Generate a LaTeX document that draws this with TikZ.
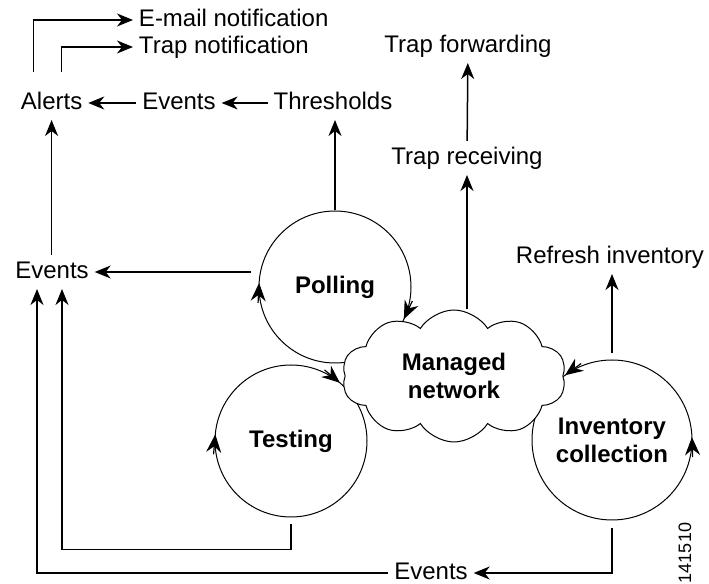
\documentclass[tikz,border=0pt]{standalone}
\usepackage{fontspec}
\setmainfont{Liberation Sans}
\usetikzlibrary{arrows.meta,shapes.symbols}
\usetikzlibrary{positioning}
\tikzset{
    process/.style={
      circle,
           draw=black, line width=0.5pt,
           inner sep=2pt,
           text centered,
           font=\fontsize{12}{14}\selectfont\bfseries,
           minimum size=76pt,
           },
}
\tikzset{
    cloudnet/.style={
      cloud, cloud puffs=10, cloud puff arc=115, aspect=1.8,
           draw=black, fill=white, line width=0.5pt,
           align=center,
           font=\fontsize{12}{14}\selectfont\bfseries,
           minimum width=112pt, minimum height=66pt,
           },
}
\tikzset{
    lbl/.style={
           inner sep=2pt, outer sep=1pt,
           text height=9pt, text depth=2pt,
           font=\fontsize{12}{14}\selectfont,
           },
}
\tikzset{
    arr/.style={
           -{Stealth[length=8pt,width=6.5pt,inset=2.5pt]},
           line width=0.75pt,
           },
}
\tikzset{
    ringarr/.style={
           -{Stealth[length=9pt,width=7.5pt,inset=3pt]},
           line width=0.6pt,
           },
}

\begin{document}
\begin{tikzpicture}[x=0.5pt,y=0.5pt]
\useasboundingbox (0,0) rectangle (709,584);

% the three activities
\node[process](poll) at (335,297){Polling};
\node[process](test) at (291,143){Testing};
\node[process,minimum size=80pt,align=center](inv) at (612,144){Inventory\\collection};

\node[cloudnet](net) at (454,208){Managed\\network};

% arrow heads on the circles (tip on the ring, short tangent tail)
\draw[ringarr] (poll.center) ++(177:38pt) ++(267:10pt) -- ++(87:10pt);
\draw[ringarr] (poll.center) ++(-25:38pt) ++(65:10pt) -- ++(-115:10pt);
\draw[ringarr] (test.center) ++(175:38pt) ++(265:10pt) -- ++(85:10pt);
\draw[ringarr] (test.center) ++(50:38pt) ++(140:10pt) -- ++(-40:10pt);
\draw[ringarr] (inv.center) ++(2:40pt) ++(-88:10pt) -- ++(92:10pt);
\draw[ringarr] (inv.center) ++(126:40pt) ++(36:10pt) -- ++(216:10pt);

% labels
\node[lbl,anchor=west](email) at (133,564){E-mail notification};
\node[lbl,anchor=west](trapnot) at (133,537){Trap notification};
\node[lbl](thr) at (333,481){Thresholds};
\node[lbl,left = 23pt of thr](evtop){Events};
\node[lbl,left = 24pt of evtop](alerts){Alerts};
\node[lbl](trapfwd) at (468,538){Trap forwarding};
\node[lbl](traprcv) at (467,426){Trap receiving};
\node[lbl](refresh) at (610,327){Refresh inventory};
\node[lbl](evmid) at (52,312){Events};
\node[lbl](evbot) at (431,11){Events};
\node[rotate=90,inner sep=0pt,font=\fontsize{9}{11}\selectfont](fignum) at (685,31){141510};

\draw[arr] ([xshift=-9pt,yshift=7pt]alerts.north) |- (email);
\draw[arr] ([xshift=5pt,yshift=7pt]alerts.north) |- (trapnot);

\path (evtop) edge[arr](alerts);
\path (thr) edge[arr](evtop);
\path (poll.north) edge[arr](poll.north |- thr.south);

\path ([xshift=-4pt]poll.west |- evmid) edge[arr](evmid);
\path (alerts |- evmid.north) edge[arr](alerts);

\draw[arr] ([yshift=-3.5pt]test.south) -- ++(0,-12.5pt) -| ([xshift=5pt]evmid.south);
\draw[arr] ([yshift=-4pt]inv.south) |- (evbot);
\draw[arr] (evbot) -| ([xshift=-7.5pt]evmid.south);

\path (traprcv |- net.north) edge[arr](traprcv);
\path (traprcv) edge[arr](trapfwd);
\path ([yshift=3pt]inv.north) edge[arr](inv.north |- refresh.south);

\end{tikzpicture}
\end{document}
